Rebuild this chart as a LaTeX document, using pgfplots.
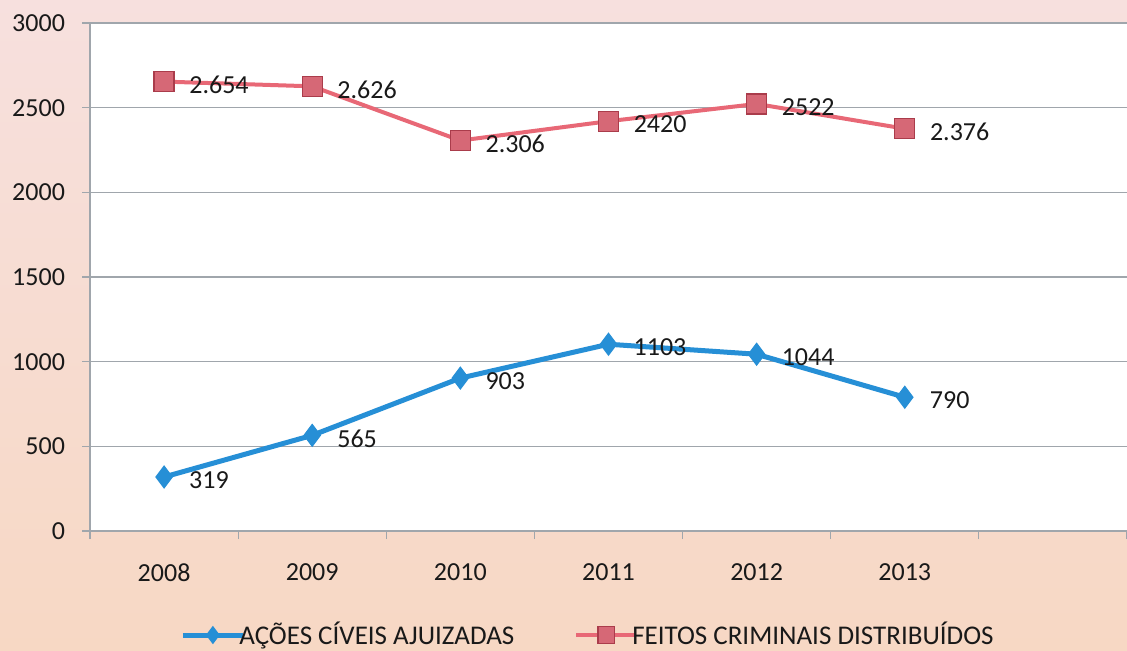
\documentclass[border=0pt]{standalone}
\usepackage{fontspec}
\setmainfont{Carlito}
\usepackage{pgfplots}
\pgfplotsset{compat=1.18}
\definecolor{bgtop}{RGB}{247,224,222}
\definecolor{bgbot}{RGB}{247,216,196}
\definecolor{blueline}{RGB}{38,143,214}
\definecolor{redline}{RGB}{232,104,118}
\definecolor{redfill}{RGB}{214,104,118}
\definecolor{reddraw}{RGB}{170,60,75}
\definecolor{gridc}{RGB}{160,166,172}
\definecolor{txt}{RGB}{25,25,25}
\begin{document}
\begin{tikzpicture}[font=\fontsize{13}{15.5}\selectfont]
\shade[top color=bgtop,bottom color=bgbot] (-45pt,-59.5pt) rectangle (530pt,265.5pt);
\begin{axis}[
  at={(0pt,0pt)}, anchor=south west,
  width=525pt, height=254pt, scale only axis,
  xmin=-0.5, xmax=6.588, ymin=0, ymax=3000,
  axis background/.style={fill=white},
  axis x line*=bottom, axis y line*=left,
  axis line style={-, gridc, line width=0.6pt},
  tick align=outside, major tick length=4pt,
  tick style={gridc, line width=0.6pt},
  xtick={-0.5,0.5,...,6.5},
  x tick label as interval,
  xticklabels={2008,2009,2010,2011,2012,2013,{}},
  xticklabel style={yshift=-8.6pt, text=txt},
  ytick={0,500,...,3000},
  yticklabel style={xshift=-5pt, text=txt},
  /pgf/number format/1000 sep={},
  /pgf/number format/assume math mode=true,
  ymajorgrids, grid style={gridc, line width=0.6pt},
  legend columns=2,
  legend style={at={(0.4752,0)}, anchor=center, yshift=-52pt, draw=none, fill=none,
    font=\fontsize{13.5}{16}\selectfont,
    /tikz/every odd column/.append style={column sep=-5pt},
    /tikz/every even column/.append style={column sep=28pt}, text=txt},
  legend image code/.code={\draw[mark repeat=2,mark phase=2,#1,mark size=4.2pt] plot coordinates {(0pt,0pt)(15pt,0pt)(30pt,0pt)};},
  nodes near coords, point meta=explicit symbolic,
  nodes near coords style={anchor=west, xshift=9pt, yshift=-1.5pt, text=txt},
]
\addplot[blueline, line width=2.5pt, mark=diamond*, mark size=5.5pt,
  mark options={fill=blueline, draw=blueline, line width=0.5pt}]
  coordinates {(0,319) [319] (1,565) [565] (2,903) [903] (3,1103) [1103] (4,1044) [1044] (5,790) [790]};
\addlegendentry{AÇÕES CÍVEIS AJUIZADAS}
\addplot[redline, line width=2pt, mark=square*, mark size=5pt,
  mark options={fill=redfill, draw=reddraw, line width=0.6pt}]
  coordinates {(0,2654) [2.654] (1,2626) [2.626] (2,2306) [2.306] (3,2420) [2420] (4,2522) [2522] (5,2376) [2.376]};
\addlegendentry{FEITOS CRIMINAIS DISTRIBUÍDOS}
\end{axis}
\pgfresetboundingbox
\path[use as bounding box] (-45pt,-59.5pt) rectangle (518.5pt,265.5pt);
\end{tikzpicture}
\end{document}
